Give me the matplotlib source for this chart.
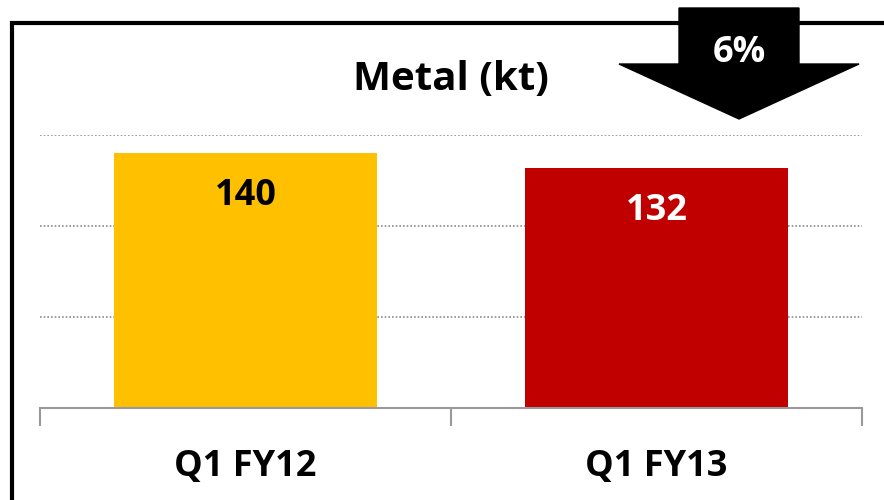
import matplotlib
matplotlib.use("Agg")
import matplotlib.pyplot as plt
from matplotlib.patches import Polygon, Rectangle

categories = ["Q1 FY12", "Q1 FY13"]
values = [140, 132]
bar_colors = ["#FFC000", "#C00000"]
label_colors = ["black", "white"]
title = "Metal (kt)"
change_label = "6%"
yticks = [50, 100, 150]

W, H = 884, 500
plt.rcParams['font.family'] = ['Open Sans', 'DejaVu Sans']
fig = plt.figure(figsize=(W / 100, H / 100), dpi=100)

def fx(px):
    return px / W

def fy(py):
    return 1 - py / H

# outer frame (extends past right and bottom edges)
fig.patches.append(Rectangle((fx(12), fy(560)), fx(900), fy(23) - fy(560),
                             transform=fig.transFigure, fill=False,
                             edgecolor="black", linewidth=3, zorder=0))

ax = fig.add_axes([fx(40), fy(408), fx(862) - fx(40), fy(135) - fy(408)])
x = list(range(len(categories)))
ax.bar(x, values, width=0.642, color=bar_colors, zorder=2)
ax.set_xlim(-0.5, 1.5)
ax.set_ylim(0, 150)
ax.set_yticks(yticks)
ax.yaxis.grid(True, linestyle=(0, (1, 1.2)), color="#8c8c8c", linewidth=1.2, zorder=1)
ax.tick_params(axis="y", length=0, labelleft=False)
for s in ["top", "right", "left"]:
    ax.spines[s].set_visible(False)
ax.spines["bottom"].set_color("#999999")
ax.spines["bottom"].set_linewidth(1.5)
ax.spines["bottom"].set_zorder(3)
ax.set_xticks([-0.5, 0.5, 1.5])
ax.set_xticklabels([])
ax.tick_params(axis="x", length=13, width=1.5, color="#999999", direction="out")
for xi, cat in zip(x, categories):
    ax.annotate(cat, (xi, 0), xytext=(0, -59), textcoords="offset pixels",
                ha="center", va="center", fontsize=26, fontweight="bold")
for xi, v, lc in zip(x, values, label_colors):
    ax.annotate(str(v), (xi, v), xytext=(0, -43), textcoords="offset pixels",
                ha="center", va="center", fontsize=26, fontweight="bold", color=lc, zorder=4)

fig.text(fx(451), fy(80), title, ha="center", va="center", fontsize=29, fontweight="bold")

# down arrow
arrow_pts = [(679, 8), (799, 8), (799, 64), (859, 64), (739, 119), (619, 64), (679, 64)]
fig.patches.append(Polygon([(fx(a), fy(b)) for a, b in arrow_pts], closed=True,
                           transform=fig.transFigure, facecolor="black",
                           edgecolor="black", zorder=5))
fig.text(fx(739), fy(53), change_label, ha="center", va="center", fontsize=26,
         fontweight="bold", color="white", zorder=6)

fig.savefig("out.png", dpi=100)
